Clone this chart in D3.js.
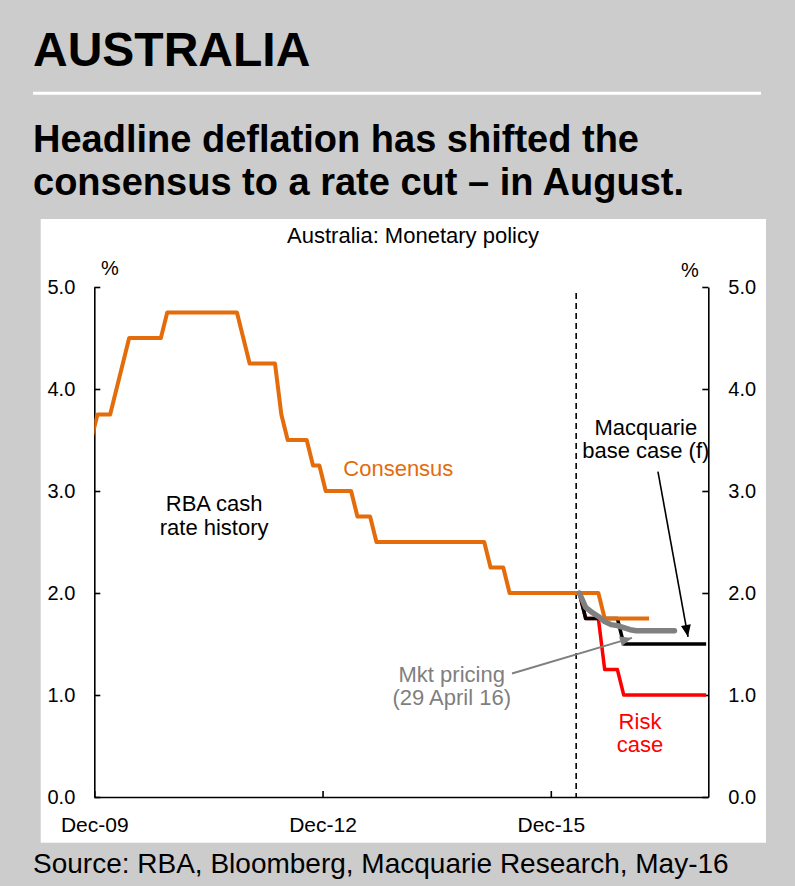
<!DOCTYPE html>
<html>
<head>
<meta charset="utf-8">
<script src="https://cdn.jsdelivr.net/npm/d3@7"></script>
<style>
  body { margin: 0; background: #cccccc; }
  svg  { display: block; font-family: "Liberation Sans", Arial, sans-serif; }
</style>
</head>
<body>
<div id="chart"></div>
<script>
// ── Data ──────────────────────────────────────────────────────────────────
// months are counted from Dec-09 (= 0); each monthly value sits mid-month
const tickMonths = [0, 36, 72];
const tickLabels = ["Dec-09", "Dec-12", "Dec-15"];
const yTicks     = [0, 1, 2, 3, 4, 5];

// RBA cash rate, monthly, Nov-09 .. Apr-16
const historyStart = -1;
const history = [
  3.50, 3.75,
  3.75, 3.75, 4.00, 4.25, 4.50, 4.50, 4.50, 4.50, 4.50, 4.50, 4.75, 4.75,
  4.75, 4.75, 4.75, 4.75, 4.75, 4.75, 4.75, 4.75, 4.75, 4.75, 4.50, 4.25,
  4.25, 4.25, 4.25, 4.25, 3.75, 3.50, 3.50, 3.50, 3.50, 3.25, 3.25, 3.00,
  3.00, 3.00, 3.00, 3.00, 2.75, 2.75, 2.75, 2.50, 2.50, 2.50, 2.50, 2.50,
  2.50, 2.50, 2.50, 2.50, 2.50, 2.50, 2.50, 2.50, 2.50, 2.50, 2.50, 2.50,
  2.50, 2.25, 2.25, 2.25, 2.00, 2.00, 2.00, 2.00, 2.00, 2.00, 2.00, 2.00,
  2.00, 2.00, 2.00, 2.00
];

// forecasts, monthly from Apr-16
const forecastStart = 76;
const consensus = [2.00, 2.00, 2.00, 2.00, 1.75, 1.75, 1.75, 1.75, 1.75, 1.75, 1.75, 1.75];
const baseCase  = [2.00, 1.75, 1.75, 1.75, 1.75, 1.75, 1.75, 1.50, 1.50,
                   1.50, 1.50, 1.50, 1.50, 1.50, 1.50, 1.50, 1.50, 1.50, 1.50, 1.50, 1.50];
const riskCase  = [2.00, 1.75, 1.75, 1.75, 1.25, 1.25, 1.25, 1.00, 1.00,
                   1.00, 1.00, 1.00, 1.00, 1.00, 1.00, 1.00, 1.00, 1.00, 1.00, 1.00, 1.00];
const mktPricing = [2.00, 1.86, 1.81, 1.77, 1.72, 1.69, 1.68, 1.66, 1.64,
                    1.63, 1.63, 1.63, 1.63, 1.63, 1.63, 1.63];

const ORANGE = "#e46c0a", RED = "#ff0000", GREY = "#808080", BLACK = "#000000";

// ── Layout ────────────────────────────────────────────────────────────────
const totalW = 795, totalH = 886;
const plot = { left: 94.3, right: 708.3, top: 287, bottom: 797 };

const svg = d3.select("#chart").append("svg")
  .attr("width", totalW).attr("height", totalH);

svg.append("rect").attr("width", totalW).attr("height", totalH).attr("fill", "#cccccc");

// headings
svg.append("text").attr("x", 33).attr("y", 66)
  .attr("font-size", 48).attr("font-weight", "bold").text("AUSTRALIA");

svg.append("line").attr("x1", 33).attr("x2", 761).attr("y1", 93.3).attr("y2", 93.3)
  .attr("stroke", "#fff").attr("stroke-width", 3);

svg.append("text").attr("x", 33).attr("y", 151.7)
  .attr("font-size", 38).attr("font-weight", "bold").text("Headline deflation has shifted the");
svg.append("text").attr("x", 33).attr("y", 195)
  .attr("font-size", 38).attr("font-weight", "bold").text("consensus to a rate cut \u2013 in August.");

// white chart panel
svg.append("rect").attr("x", 40.7).attr("y", 219).attr("width", 725.3).attr("height", 623.7)
  .attr("fill", "#fff");

svg.append("text").attr("x", 413).attr("y", 243).attr("text-anchor", "middle")
  .attr("font-size", 22).text("Australia: Monetary policy");

svg.append("text").attr("x", 33).attr("y", 873)
  .attr("font-size", 28).text("Source: RBA, Bloomberg, Macquarie Research, May-16");

// ── Scales ────────────────────────────────────────────────────────────────
const x = d3.scaleLinear().domain([0, 96.84]).range([plot.left, plot.right]);
const y = d3.scaleLinear().domain([0, 5]).range([plot.bottom, plot.top]);

const series = (values, start) => values.map((v, i) => ({ m: start + i + 0.5, v }));

// ── Axes ──────────────────────────────────────────────────────────────────
const styleAxis = sel => {
  sel.selectAll("path.domain").attr("stroke", "#000").attr("stroke-width", 1.6);
  sel.selectAll(".tick line").attr("stroke", "#000").attr("stroke-width", 1.6);
  sel.selectAll("text").attr("fill", "#000").attr("font-size", 20)
    .attr("font-family", "Liberation Sans, Arial, sans-serif");
};

svg.append("g").attr("transform", `translate(${plot.left},0)`)
  .call(d3.axisLeft(y).tickValues(yTicks).tickFormat(d3.format(".1f"))
    .tickSizeInner(-6).tickSizeOuter(0).tickPadding(19))
  .call(styleAxis);

svg.append("g").attr("transform", `translate(${plot.right},0)`)
  .call(d3.axisRight(y).tickValues(yTicks).tickFormat(d3.format(".1f"))
    .tickSizeInner(-6).tickSizeOuter(0).tickPadding(20))
  .call(styleAxis);

svg.append("g").attr("transform", `translate(0,${plot.bottom})`)
  .call(d3.axisBottom(x).tickValues(tickMonths).tickFormat((d, i) => tickLabels[i])
    .tickSizeInner(-6).tickSizeOuter(0).tickPadding(20))
  .call(styleAxis)
  .call(g => g.selectAll("text").attr("font-size", 21));

svg.append("text").attr("x", 110).attr("y", 275).attr("text-anchor", "middle")
  .attr("font-size", 20).text("%");
svg.append("text").attr("x", 690).attr("y", 277).attr("text-anchor", "middle")
  .attr("font-size", 20).text("%");

// ── Lines ─────────────────────────────────────────────────────────────────
svg.append("clipPath").attr("id", "plot-clip").append("rect")
  .attr("x", plot.left).attr("y", 0).attr("width", plot.right - plot.left).attr("height", totalH);

const lines = svg.append("g").attr("clip-path", "url(#plot-clip)");
const lineGen = d3.line().x(d => x(d.m)).y(d => y(d.v));

// forecast divider
lines.append("line")
  .attr("x1", x(forecastStart)).attr("x2", x(forecastStart))
  .attr("y1", y(4.94)).attr("y2", y(0))
  .attr("stroke", "#000").attr("stroke-width", 1.6).attr("stroke-dasharray", "6,4");

const drawLine = (data, color, width, cap = "butt") =>
  lines.append("path").datum(data)
    .attr("fill", "none").attr("stroke", color).attr("stroke-width", width)
    .attr("stroke-linejoin", "round").attr("stroke-linecap", cap)
    .attr("d", lineGen);

drawLine(series(history, historyStart), ORANGE, 4);
drawLine(series(riskCase, forecastStart), RED, 3.5);
drawLine(series(baseCase, forecastStart), BLACK, 3.5);
drawLine(series(consensus, forecastStart), ORANGE, 4);
drawLine(series(mktPricing, forecastStart), GREY, 5.5, "round");

// ── Annotations ───────────────────────────────────────────────────────────
const defs = svg.append("defs");
[["arrow-black", BLACK], ["arrow-grey", GREY]].forEach(([id, c]) => {
  defs.append("marker").attr("id", id)
    .attr("viewBox", "0 0 12 10").attr("refX", 12).attr("refY", 5)
    .attr("markerWidth", 13).attr("markerHeight", 10)
    .attr("markerUnits", "userSpaceOnUse").attr("orient", "auto")
    .append("path").attr("d", "M0,0 L12,5 L0,10 Z").attr("fill", c);
});

const arrow = (m1, v1, m2, v2, color, id, w) =>
  svg.append("line")
    .attr("x1", x(m1)).attr("y1", y(v1)).attr("x2", x(m2)).attr("y2", y(v2))
    .attr("stroke", color).attr("stroke-width", w)
    .attr("marker-end", `url(#${id})`);

arrow(88.9, 3.19, 93.64, 1.57, BLACK, "arrow-black", 1.6);
arrow(65.88, 1.21, 84.8, 1.56, GREY, "arrow-grey", 2);

const label = (m, v, linesTxt, color, anchor = "middle") => {
  const t = svg.append("text").attr("x", x(m)).attr("y", y(v))
    .attr("text-anchor", anchor).attr("font-size", 22).attr("fill", color);
  linesTxt.forEach((s, i) => t.append("tspan").attr("x", x(m)).attr("dy", i ? 23.5 : 0).text(s));
};

label(18.9, 2.80, ["RBA cash", "rate history"], "#000");
label(39.27, 3.15, ["Consensus"], ORANGE, "start");
label(86.98, 3.55, ["Macquarie", "base case (f)"], "#000");
label(56.37, 1.13, ["Mkt pricing", "(29 April 16)"], "#7f7f7f");
label(86.07, 0.67, ["Risk", "case"], RED);
</script>
</body>
</html>
